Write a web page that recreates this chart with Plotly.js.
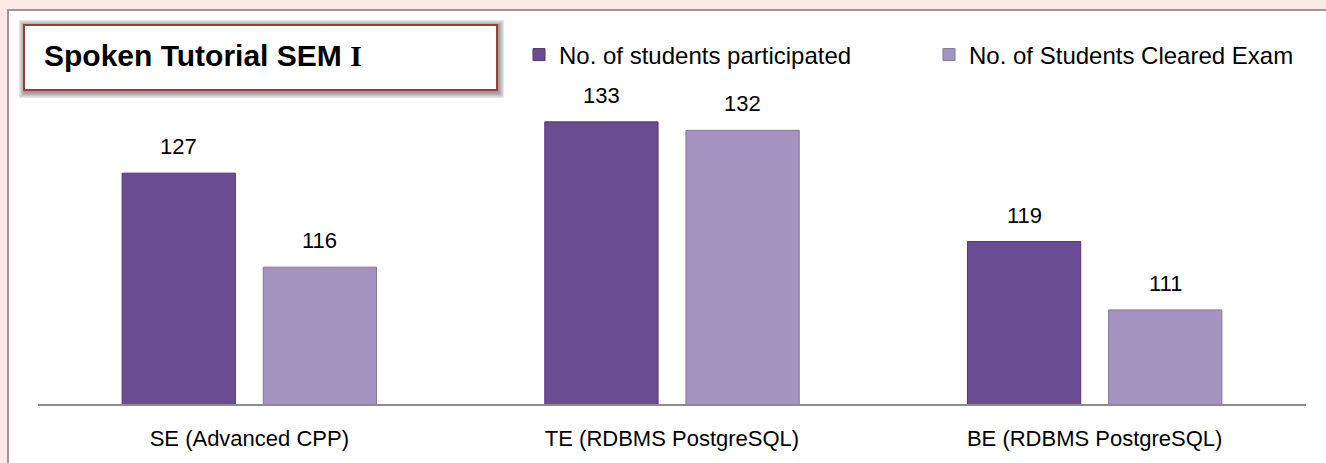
<!DOCTYPE html>
<html><head><meta charset="utf-8">
<script src="https://cdn.plot.ly/plotly-3.0.1.min.js"></script>
<style>
html,body{margin:0;padding:0;background:#fde8e8;width:1326px;height:463px;overflow:hidden;}
#frame{position:absolute;left:7px;top:9px;width:1319px;height:454px;background:#fff;border-left:2px solid #999;border-top:2px solid #999;box-sizing:border-box;}
#chart{position:absolute;left:0;top:0;width:1326px;height:463px;}
</style></head>
<body>
<div id="frame"></div>
<div id="chart"></div>
<script>
const categories = ["SE (Advanced CPP)", "TE (RDBMS PostgreSQL)", "BE (RDBMS PostgreSQL)"];
const seriesNames = ["No. of students participated", "No. of Students Cleared Exam"];
const participated = [127, 133, 119];
const cleared = [116, 132, 111];
const chartTitle = 'Spoken Tutorial SEM <span style="font-family:\'Liberation Serif\',serif">I</span>';

const W = 0.268, OFF1 = -0.301, OFF2 = 0.033;
const FONT = "Liberation Sans, Arial, sans-serif";

const traces = [
  {type:'bar', name:seriesNames[0], x:categories, y:participated, width:W, offset:OFF1,
   marker:{color:'#6a4c92', line:{color:'#4e3870', width:1}}, hoverinfo:'skip'},
  {type:'bar', name:seriesNames[1], x:categories, y:cleared, width:W, offset:OFF2,
   marker:{color:'#a494c1', line:{color:'#857599', width:1}}, hoverinfo:'skip'}
];

const annotations = [];
[[participated, OFF1],[cleared, OFF2]].forEach(([vals, off]) => {
  vals.forEach((v, i) => {
    annotations.push({x: i + off + W/2, y: v, xref:'x', yref:'y', text: String(v), showarrow:false,
      yanchor:'bottom', yshift:12, font:{family:FONT, size:22, color:'#000'}});
  });
});
function px2x(p){return (p-38)/1268;}
function py2y(p){return (404-p)/342;}
// title box text
annotations.push({xref:'paper', yref:'paper', x:px2x(42), y:py2y(56), xanchor:'left', yanchor:'middle',
  text:'<b>'+chartTitle+'</b>', showarrow:false, font:{family:FONT, size:30, color:'#000'}});

const shapes = [];
for (let k=5;k>=1;k--){
  shapes.push({type:'rect', xref:'paper', yref:'paper', layer:'below',
    x0:px2x(24-k*1.2+1), x1:px2x(497+k*1.2+1), y0:py2y(90+k*1.2+2), y1:py2y(25-k*1.2+1),
    line:{width:0}, fillcolor:'rgba(60,60,70,0.13)'});
}
shapes.push({type:'rect', xref:'paper', yref:'paper', layer:'below',
  x0:px2x(24), x1:px2x(497), y0:py2y(90), y1:py2y(25), line:{color:'#a23a3a', width:2}, fillcolor:'#fff'});

const layout = {
  width:1326, height:463,
  margin:{l:38, r:20, t:62, b:59, autoexpand:false},
  paper_bgcolor:'rgba(0,0,0,0)', plot_bgcolor:'rgba(0,0,0,0)',
  barmode:'group',
  showlegend:true,
  legend:{orientation:'h', x:px2x(519), y:py2y(55), xanchor:'left', yanchor:'middle',
    font:{family:FONT, size:24, color:'#000'}, entrywidth:365, entrywidthmode:'pixels',
    itemwidth:30, traceorder:'normal', bgcolor:'rgba(0,0,0,0)'},
  xaxis:{type:'category', showline:true, linecolor:'#8c8c8c', linewidth:2, showgrid:false, zeroline:false,
    ticks:'', tickfont:{family:FONT, size:22, color:'#000'}, ticklabelstandoff:14, fixedrange:true},
  yaxis:{range:[100,140], visible:false, showgrid:false, zeroline:false, fixedrange:true},
  annotations: annotations,
  shapes: shapes,
  font:{family:FONT}
};
Plotly.newPlot('chart', traces, layout, {displayModeBar:false, staticPlot:true});
</script>
</body></html>
